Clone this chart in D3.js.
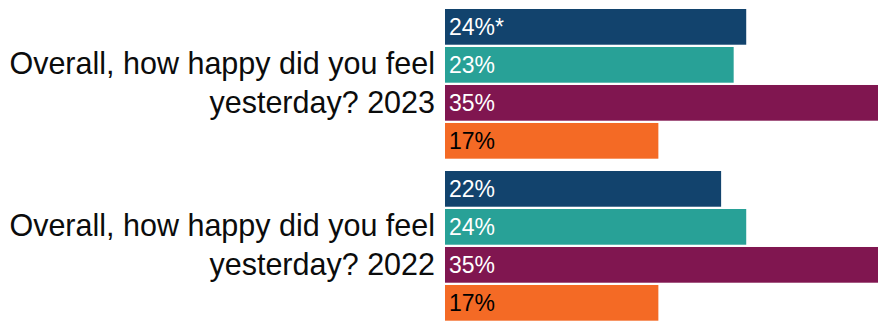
<!DOCTYPE html>
<html>
<head>
<meta charset="utf-8">
<script src="https://cdn.jsdelivr.net/npm/d3@7"></script>
<style>
  html, body { margin: 0; padding: 0; background: #fff; }
  svg { display: block; font-family: "Liberation Sans", Arial, sans-serif; }
</style>
</head>
<body>
<svg id="chart" width="878" height="321"></svg>
<script>
// Survey question, one group per year
const groups = ["2023", "2022"];
const groupLines = [
  ["Overall, how happy did you feel", "yesterday? 2023"],
  ["Overall, how happy did you feel", "yesterday? 2022"]
];
// Four response bands, in drawing order
const series = ["band1", "band2", "band3", "band4"];
const values2023 = [24, 23, 35, 17];
const values2022 = [22, 24, 35, 17];
const labels2023 = ["24%*", "23%", "35%", "17%"];
const labels2022 = ["22%", "24%", "35%", "17%"];
const colors = ["#12436D", "#28A197", "#801650", "#F46A25"];
const textColors = ["#ffffff", "#ffffff", "#ffffff", "#000000"];

const rows = groups.map((g, i) => ({
  group: g,
  lines: groupLines[i],
  values: i === 0 ? values2023 : values2022,
  labels: i === 0 ? labels2023 : labels2022
}));

const svg = d3.select("#chart");
const W = 878, H = 321;
const left = 445;

const x = d3.scaleLinear().domain([0, 34.5]).range([left, W]);
const y0 = d3.scaleBand().domain(groups).range([9, 320.7]).paddingInner(0.076).paddingOuter(0);
const y1 = d3.scaleBand().domain(series).range([0, y0.bandwidth()]).paddingInner(0.06).paddingOuter(0);

const g = svg.selectAll("g.group")
  .data(rows)
  .join("g")
  .attr("class", "group")
  .attr("transform", d => `translate(0,${y0(d.group)})`);

g.selectAll("rect")
  .data(d => d.values.map((v, i) => ({ key: series[i], v, i })))
  .join("rect")
  .attr("x", x(0))
  .attr("y", d => y1(d.key))
  .attr("width", d => x(d.v) - x(0))
  .attr("height", y1.bandwidth())
  .attr("fill", d => colors[d.i]);

g.selectAll("text.val")
  .data(d => d.labels.map((t, i) => ({ key: series[i], t, i })))
  .join("text")
  .attr("class", "val")
  .attr("x", x(0) + 4)
  .attr("y", d => y1(d.key) + y1.bandwidth() / 2)
  .attr("dy", "0.36em")
  .attr("font-size", 23)
  .attr("fill", d => textColors[d.i])
  .text(d => d.t);

// Two-line category label, right aligned against the bars
const lineH = 39;
g.append("text")
  .attr("class", "cat")
  .attr("text-anchor", "end")
  .attr("font-size", 30.5)
  .attr("fill", "#0b0c0c")
  .selectAll("tspan")
  .data(d => d.lines)
  .join("tspan")
  .attr("x", 435)
  .attr("y", (d, i) => y0.bandwidth() / 2 - lineH / 2 - 1.5 + i * lineH)
  .attr("dy", "0.36em")
  .text(d => d);
</script>
</body>
</html>
